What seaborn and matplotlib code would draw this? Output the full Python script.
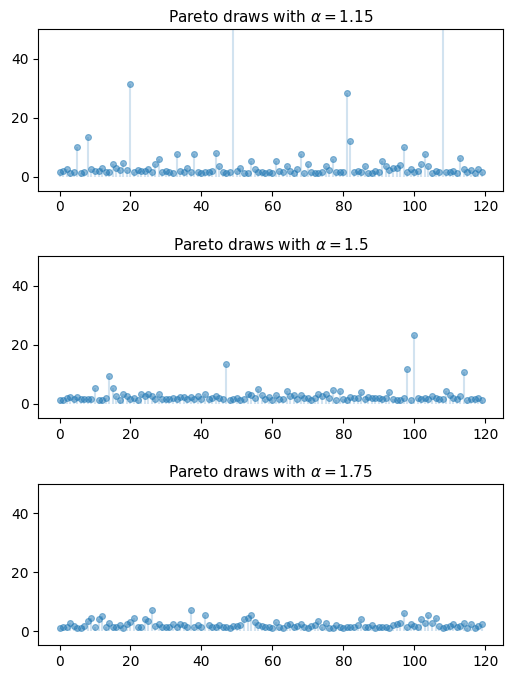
import numpy as np
import pandas as pd
import matplotlib
matplotlib.use("Agg")
import matplotlib.pyplot as plt
import seaborn as sns

alphas = [1.15, 1.5, 1.75]

draws_115 = [
    1.5, 2.0, 2.5, 1.3, 1.5, 10.0, 1.3, 1.5, 13.4, 2.7,
    1.9, 2.0, 3.0, 1.5, 1.5, 4.3, 3.0, 2.4, 4.7, 2.1,
    31.4, 1.5, 2.4, 1.9, 1.9, 2.7, 1.5, 4.3, 6.1, 1.5,
    1.9, 1.5, 1.3, 7.5, 1.9, 1.5, 3.0, 1.5, 7.8, 1.5,
    1.3, 1.5, 1.5, 1.9, 8.0, 3.5, 1.5, 1.3, 1.5, 80.0,
    1.9, 3.0, 1.3, 1.3, 5.4, 2.7, 1.5, 1.5, 1.3, 1.5,
    1.3, 5.4, 1.9, 1.5, 3.7, 1.9, 1.3, 2.7, 7.5, 1.3,
    4.3, 1.5, 1.3, 1.3, 1.5, 3.5, 2.4, 5.8, 1.5, 1.5,
    1.5, 28.4, 12.2, 1.5, 1.9, 1.5, 3.7, 1.3, 1.3, 1.9,
    1.5, 5.4, 3.7, 2.4, 3.0, 3.0, 4.0, 10.0, 1.5, 2.7,
    1.5, 1.9, 4.3, 7.5, 3.7, 1.3, 1.9, 1.5, 65.0, 1.5,
    1.5, 1.9, 1.3, 6.4, 2.7, 1.5, 2.4, 1.3, 2.7, 1.5,
]

draws_150 = [
    1.3, 1.3, 1.9, 2.5, 1.7, 2.5, 1.7, 1.7, 1.7, 1.7,
    5.4, 1.3, 1.3, 1.9, 9.5, 5.4, 2.7, 1.3, 3.3, 2.7,
    1.7, 2.1, 1.3, 3.3, 2.7, 3.3, 2.7, 1.7, 3.3, 1.7,
    1.7, 1.7, 2.1, 1.7, 2.5, 2.5, 1.7, 2.5, 1.7, 2.7,
    1.7, 3.3, 1.7, 2.1, 2.7, 2.1, 1.7, 13.4, 1.3, 1.7,
    2.1, 1.3, 1.7, 3.3, 3.0, 2.1, 5.0, 3.0, 1.7, 2.5,
    1.3, 3.0, 1.7, 1.7, 4.4, 2.7, 3.0, 1.7, 3.0, 2.1,
    2.1, 1.3, 2.1, 3.3, 2.7, 3.3, 2.1, 4.7, 1.3, 4.4,
    1.7, 1.3, 2.5, 2.1, 2.1, 4.0, 1.7, 2.5, 2.1, 2.1,
    2.1, 1.7, 2.1, 4.0, 1.7, 1.3, 1.3, 2.1, 11.8, 1.3,
    23.3, 2.1, 1.7, 2.1, 1.7, 2.7, 2.1, 1.7, 1.7, 4.4,
    3.0, 2.1, 1.7, 2.7, 10.7, 1.3, 1.7, 1.7, 2.1, 1.3,
]

draws_175 = [
    1.2, 1.5, 1.5, 2.7, 1.8, 1.2, 1.2, 1.8, 3.6, 4.3,
    1.5, 4.0, 5.1, 1.5, 2.7, 1.5, 1.5, 2.0, 1.2, 2.4,
    3.0, 4.3, 1.5, 1.5, 4.0, 3.6, 7.3, 1.8, 2.4, 1.5,
    1.5, 1.5, 2.4, 1.5, 2.4, 2.0, 1.5, 7.3, 1.5, 2.0,
    1.5, 5.4, 2.0, 1.5, 1.5, 2.0, 1.5, 1.5, 1.2, 1.8,
    1.8, 2.0, 4.0, 4.5, 5.4, 3.0, 2.0, 1.8, 1.5, 1.5,
    1.2, 3.0, 1.5, 1.2, 2.0, 2.4, 1.5, 1.8, 2.4, 1.5,
    1.2, 1.8, 2.0, 3.6, 1.5, 2.7, 1.2, 1.2, 2.0, 1.5,
    1.2, 1.5, 1.5, 1.5, 2.0, 4.0, 1.5, 1.5, 2.0, 1.2,
    1.5, 1.5, 1.5, 1.2, 2.0, 2.4, 2.7, 6.3, 1.5, 2.4,
    1.8, 1.5, 4.0, 2.7, 5.4, 2.9, 4.5, 1.8, 1.2, 1.5,
    1.8, 2.4, 1.5, 1.8, 2.7, 1.2, 2.4, 1.2, 1.8, 2.4,
]

series = [draws_115, draws_150, draws_175]

plt.rcParams['font.family'] = ['DejaVu Sans']
plt.rcParams['font.size'] = 10

fig, axes = plt.subplots(3, 1, figsize=(5.12, 6.79), dpi=100)
fig.subplots_adjust(left=0.075, right=0.982, top=0.957, bottom=0.0496, hspace=0.407)

color = "#1f77b4"
for ax, a, vals in zip(axes, alphas, series):
    df = pd.DataFrame({"i": np.arange(len(vals)), "v": vals})
    ax.vlines(df["i"], 0, df["v"], lw=1.5, alpha=0.2, color=color)
    sns.scatterplot(data=df, x="i", y="v", ax=ax, color=color, alpha=0.5,
                    s=18, edgecolor=color, linewidth=0.8)
    ax.set_ylim(-4.8, 50)
    ax.set_xlabel("")
    ax.set_ylabel("")
    ax.set_xticks([0, 20, 40, 60, 80, 100, 120])
    ax.set_yticks([0, 20, 40])
    ax.set_title(rf"Pareto draws with $\alpha = {a}$", fontsize=11, pad=5)

fig.savefig("out.png", dpi=100)
